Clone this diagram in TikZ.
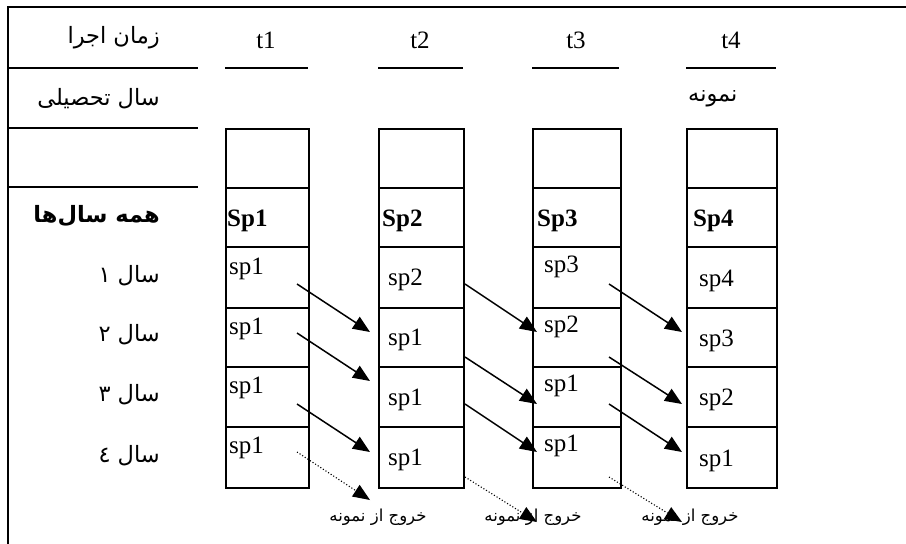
\documentclass[tikz,border=0pt]{standalone}
\usepackage{fontspec}
\setmainfont{Liberation Serif}
\newfontfamily\arabicfont[Script=Arabic]{DejaVu Sans}
\TeXXeTstate=1
\usetikzlibrary{arrows.meta}
\tikzset{
  frame/.style={line width=2pt},
  cell/.style={draw, line width=2pt, anchor=north west, inner sep=0pt},
  lat/.style={font=\fontsize{25}{25}\selectfont, inner sep=0pt, anchor=base west},
  latb/.style={font=\fontsize{25}{25}\selectfont\bfseries, inner sep=0pt, anchor=base west},
  tlab/.style={font=\fontsize{25}{25}\selectfont, inner sep=0pt, anchor=base},
  ara/.style={font=\fontsize{22.5}{22.5}\selectfont\arabicfont, inner sep=0pt, anchor=east},
  arab/.style={font=\fontsize{22.5}{22.5}\selectfont\arabicfont\bfseries, inner sep=0pt, anchor=east},
  aras/.style={font=\fontsize{16.5}{16.5}\selectfont\arabicfont, inner sep=0pt},
  arr/.style={line width=1.5pt, -{Triangle[length=17pt,width=14pt]}},
  darr/.style={line width=1.1pt, dotted, -{Triangle[length=17pt,width=14pt,line width=0pt]}},
}
\begin{document}
\begin{tikzpicture}[x=1pt,y=-1pt]
\useasboundingbox (0,0) rectangle (906,544);
% outer frame
\draw[frame] (906,7) -- (8,7) -- (8,544);
% left column lines
\foreach \yy in {68,128,187} \draw[frame] (8,\yy) -- (198,\yy);
% header underlines
\draw[frame] (225,68) -- (308,68);
\draw[frame] (378,68) -- (463,68);
\draw[frame] (532,68) -- (619,68);
\draw[frame] (686,68) -- (776,68);
% cells
\foreach \c/\xl/\w in {1/225/83, 2/378/85, 3/532/88, 4/686/90}{
  \foreach \r/\yt/\h in {1/128/59, 2/187/59, 3/246/61, 4/307/59, 5/366/60, 6/426/61}{
    \node[cell, minimum width=\w pt, minimum height=\h pt] (c\c r\r) at (\xl,\yt) {};
  }
}
% left labels
\node[ara] (l0) at (160,38) {\beginR زمان اجرا\endR};
\node[ara] (l1) at (160,99) {\beginR سال تحصیلی\endR};
\node[arab] (l2) at (160,216) {\beginR همه سال‌ها\endR};
\node[ara] (l3) at (160,276) {\beginR سال ١\endR};
\node[ara] (l4) at (160,335) {\beginR سال ٢\endR};
\node[ara] (l5) at (160,395) {\beginR سال ٣\endR};
\node[ara] (l6) at (160,456) {\beginR سال ٤\endR};
% time labels
\node[tlab] (t1) at (266,48) {t1};
\node[tlab] (t2) at (420,48) {t2};
\node[tlab] (t3) at (576,48) {t3};
\node[tlab] (t4) at (731,48) {t4};
\node[ara, anchor=west] (nm) at (688,99) {\beginR نمونه\endR};
% Sp labels
\node[latb] (S1) at (227,226) {Sp1};
\node[latb] (S2) at (382,226) {Sp2};
\node[latb] (S3) at (537,226) {Sp3};
\node[latb] (S4) at (693,226) {Sp4};
% column 1
\node[lat] (a3) at (229,274) {sp1};
\node[lat] (a4) at (229,334) {sp1};
\node[lat] (a5) at (229,393) {sp1};
\node[lat] (a6) at (229,453) {sp1};
% column 2
\node[lat] (b3) at (388,285) {sp2};
\node[lat] (b4) at (388,345) {sp1};
\node[lat] (b5) at (388,405) {sp1};
\node[lat] (b6) at (388,465) {sp1};
% column 3
\node[lat] (d3) at (544,272) {sp3};
\node[lat] (d4) at (544,332) {sp2};
\node[lat] (d5) at (544,391) {sp1};
\node[lat] (d6) at (544,451) {sp1};
% column 4
\node[lat] (e3) at (699,286) {sp4};
\node[lat] (e4) at (699,346) {sp3};
\node[lat] (e5) at (699,405) {sp2};
\node[lat] (e6) at (699,466) {sp1};
% exit labels
\node[aras] (x1) at (378,517) {\beginR خروج از نمونه\endR};
\node[aras] (x2) at (533,517) {\beginR خروج از نمونه\endR};
\node[aras] (x3) at (690,517) {\beginR خروج از نمونه\endR};
% arrow end points
\coordinate (p1s) at (297,284); \coordinate (p1e) at (370,332);
\coordinate (p2s) at (297,333); \coordinate (p2e) at (370,381);
\coordinate (p3s) at (297,404); \coordinate (p3e) at (370,452);
\coordinate (p4s) at (297,452); \coordinate (p4e) at (370,500);
\coordinate (q1s) at (465,284); \coordinate (q1e) at (537,332);
\coordinate (q2s) at (465,357); \coordinate (q2e) at (537,404);
\coordinate (q3s) at (465,404); \coordinate (q3e) at (537,452);
\coordinate (q4s) at (465,477); \coordinate (q4e) at (537,522);
\coordinate (r1s) at (609,284); \coordinate (r1e) at (682,332);
\coordinate (r2s) at (609,357); \coordinate (r2e) at (682,404);
\coordinate (r3s) at (609,404); \coordinate (r3e) at (682,452);
\coordinate (r4s) at (609,477); \coordinate (r4e) at (682,522);
\foreach \k in {p,q,r}{
  \foreach \i in {1,2,3} \draw[arr] (\k\i s) -- (\k\i e);
  \draw[darr] (\k4s) -- (\k4e);
}
\end{tikzpicture}
\end{document}
